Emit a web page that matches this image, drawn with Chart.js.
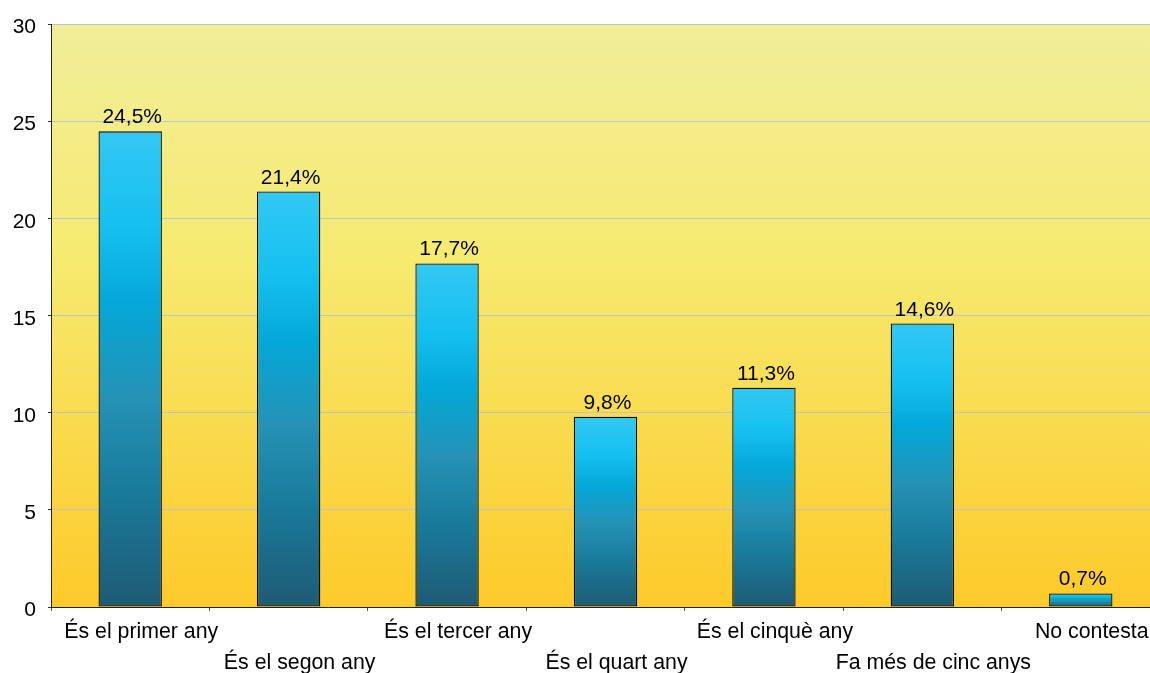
<!DOCTYPE html>
<html>
<head>
<meta charset="utf-8">
<script src="https://cdn.jsdelivr.net/npm/chart.js@4/dist/chart.umd.min.js"></script>
<style>
  html, body { margin: 0; padding: 0; background: #fff; overflow: hidden; }
  /* the original plot runs a few pixels past the right edge of the picture */
  #wrap { width: 1160px; height: 673px; }
</style>
</head>
<body>
<div id="wrap"><canvas id="barChart"></canvas></div>
<script>
const categories = ['És el primer any', 'És el segon any', 'És el tercer any', 'És el quart any',
    'És el cinquè any', 'Fa més de cinc anys', 'No contesta'];
const values = [24.5, 21.4, 17.7, 9.8, 11.3, 14.6, 0.7];
const yTicks = [0, 5, 10, 15, 20, 25, 30];

// odd labels drop to a second row
const labels = categories.map((c, i) => i % 2 ? ['', c] : [c]);

const FONT = '"Liberation Sans", Arial, sans-serif';

const plotBackground = {
    id: 'plotBackground',
    beforeDraw(chart) {
        const { ctx, chartArea: a } = chart;
        const g = ctx.createLinearGradient(0, a.top, 0, a.bottom);
        g.addColorStop(0, '#f1ee9a');
        g.addColorStop(0.4, '#f6ea70');
        g.addColorStop(1, '#fdca2a');
        ctx.save();
        ctx.fillStyle = g;
        ctx.fillRect(a.left, a.top, a.right - a.left, a.bottom - a.top);
        ctx.restore();
        // nudge labels the way the original has them
        chart.scales.x.getLabelItems().forEach(it => { it.options.translation[0] += 11; });
        chart.scales.y.getLabelItems().forEach(it => { it.options.translation[1] += 3; });
    }
};

const valueLabels = {
    id: 'valueLabels',
    afterDatasetsDraw(chart) {
        const { ctx } = chart;
        const meta = chart.getDatasetMeta(0);
        ctx.save();
        ctx.font = '21px ' + FONT;
        ctx.fillStyle = '#000';
        ctx.textAlign = 'center';
        ctx.textBaseline = 'alphabetic';
        meta.data.forEach((bar, i) => {
            const txt = values[i].toFixed(1).replace('.', ',') + '%';
            ctx.fillText(txt, bar.x + 2, bar.y - 8);
        });
        ctx.restore();
    }
};

function barGradient(context) {
    const chart = context.chart;
    if (!chart.chartArea || context.type !== 'data') return '#12b0e0';
    const y = chart.scales.y;
    const top = y.getPixelForValue(context.raw);
    const base = y.getPixelForValue(0);
    const g = chart.ctx.createLinearGradient(0, top, 0, base);
    g.addColorStop(0, '#33c8f3');
    g.addColorStop(0.2, '#15c0f0');
    g.addColorStop(0.36, '#04a8d8');
    g.addColorStop(0.56, '#2592b6');
    g.addColorStop(0.76, '#197a9a');
    g.addColorStop(1, '#1f5a74');
    return g;
}

const ctx = document.getElementById('barChart').getContext('2d');
new Chart(ctx, {
    type: 'bar',
    data: {
        labels: labels,
        datasets: [{
            data: values,
            backgroundColor: barGradient,
            borderColor: '#0a0a0a',
            borderWidth: 1.3,
            borderSkipped: false,
            categoryPercentage: 1,
            barPercentage: 0.4
        }]
    },
    options: {
        responsive: true,
        maintainAspectRatio: false,
        animation: false,
        layout: { padding: { top: 24, right: 0, left: 0, bottom: 0 } },
        plugins: {
            legend: { display: false },
            tooltip: { enabled: false }
        },
        scales: {
            x: {
                grid: {
                    offset: true,
                    drawOnChartArea: false,
                    drawTicks: true,
                    tickLength: 4,
                    color: '#555'
                },
                border: { color: '#222', width: 1 },
                ticks: {
                    color: '#000',
                    maxRotation: 0,
                    autoSkip: false,
                    padding: 6,
                    font: { family: FONT, size: 21.3, lineHeight: 1.43 }
                },
                afterFit(scale) { scale.height = 66; }
            },
            y: {
                min: 0,
                max: 30,
                afterBuildTicks(scale) { scale.ticks = yTicks.map(v => ({ value: v })); },
                grid: {
                    color: '#c2c2cc',
                    tickLength: 3,
                    tickColor: '#333'
                },
                border: { color: '#222', width: 1 },
                ticks: {
                    color: '#000',
                    padding: 12,
                    font: { family: FONT, size: 21 }
                },
                afterFit(scale) { scale.width = 51; }
            }
        }
    },
    plugins: [plotBackground, valueLabels]
});
</script>
</body>
</html>
